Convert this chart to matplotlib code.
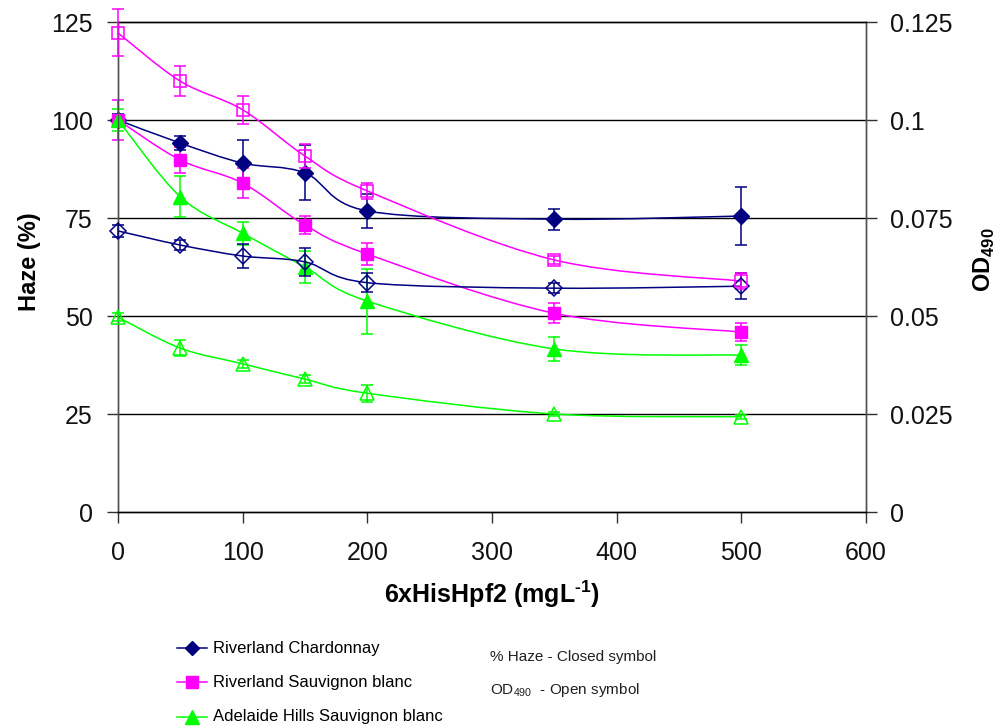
import matplotlib
matplotlib.use("Agg")
import matplotlib.pyplot as plt
from matplotlib.path import Path
from matplotlib.patches import PathPatch
from matplotlib.lines import Line2D
import numpy as np

plt.rcParams['font.family'] = ['Liberation Sans', 'DejaVu Sans']
plt.rcParams['mathtext.fontset'] = 'custom'
plt.rcParams['mathtext.rm'] = 'Liberation Sans'
plt.rcParams['mathtext.bf'] = 'Liberation Sans:bold'

# 6xHisHpf2 dose (mg/L)
dose = [0, 50, 100, 150, 200, 350, 500]

# % haze (closed symbols, left axis)
chard_haze = [100.0, 94.1, 89.0, 86.5, 76.8, 74.7, 75.5]
chard_haze_err = [1.5, 1.8, 6.0, 7.0, 4.3, 2.7, 7.5]
rsb_haze = [100.0, 89.8, 83.9, 73.2, 65.8, 50.7, 45.9]
rsb_haze_err = [5.2, 3.2, 3.8, 2.3, 2.8, 2.6, 2.3]
ahsb_haze = [100.0, 80.4, 71.1, 62.5, 53.8, 41.6, 40.0]
ahsb_haze_err = [2.8, 5.2, 3.0, 4.2, 8.3, 3.0, 2.6]

# OD490 (open symbols, right axis)
chard_od = [0.0717, 0.0681, 0.0653, 0.0638, 0.0585, 0.0571, 0.0576]
chard_od_err = [0.0015, 0.0012, 0.0030, 0.0036, 0.0025, 0.0012, 0.0033]
rsb_od = [0.1222, 0.1099, 0.1026, 0.0908, 0.0819, 0.0643, 0.0589]
rsb_od_err = [0.0060, 0.0038, 0.0035, 0.0030, 0.0020, 0.0010, 0.0020]
ahsb_od = [0.0497, 0.0418, 0.0378, 0.0339, 0.0303, 0.0250, 0.0243]
ahsb_od_err = [0.0010, 0.0020, 0.0010, 0.0010, 0.0022, 0.0005, 0.0005]

series_names = ["Riverland Chardonnay", "Riverland Sauvignon blanc",
                "Adelaide Hills Sauvignon blanc"]
colors = ["#000080", "#FF00FF", "#00FF00"]
markers = ["D", "s", "^"]
msizes = [8, 9, 10]

left_ticks = [0, 25, 50, 75, 100, 125]
right_ticks = [0, 0.025, 0.05, 0.075, 0.1, 0.125]
right_tick_labels = ["0", "0.025", "0.05", "0.075", "0.1", "0.125"]
x_ticks = [0, 100, 200, 300, 400, 500, 600]

W, H = 1004, 726
fig = plt.figure(figsize=(W / 100, H / 100), dpi=100)
ax = fig.add_axes([118 / W, 1 - 512 / H, (866 - 118) / W, (512 - 22) / H])
ax2 = ax.twinx()


def smooth_line(axis, xs, ys, color, lw):
    """Draw a smoothed (Catmull-Rom Bezier) line through the points."""
    pts = np.column_stack([xs, ys]).astype(float)
    n = len(pts)
    verts = [pts[0]]
    codes = [Path.MOVETO]
    for i in range(n - 1):
        p0 = pts[max(i - 1, 0)]
        p1 = pts[i]
        p2 = pts[i + 1]
        p3 = pts[min(i + 2, n - 1)]
        c1 = p1 + (p2 - p0) / 6.0
        c2 = p2 - (p3 - p1) / 6.0
        verts += [c1, c2, p2]
        codes += [Path.CURVE4] * 3
    patch = PathPatch(Path(verts, codes), facecolor="none", edgecolor=color,
                      lw=lw, zorder=2)
    axis.add_patch(patch)


haze_sets = [(chard_haze, chard_haze_err), (rsb_haze, rsb_haze_err),
             (ahsb_haze, ahsb_haze_err)]
od_sets = [(chard_od, chard_od_err), (rsb_od, rsb_od_err),
           (ahsb_od, ahsb_od_err)]

for (vals, err), c, m, ms in zip(haze_sets, colors, markers, msizes):
    smooth_line(ax, dose, vals, c, 1.1)
    eb = ax.errorbar(dose, vals, yerr=err, fmt="none", ecolor=c,
                     elinewidth=1.1, capsize=4, capthick=1.1, zorder=3)
    for art in eb.lines[1] + eb.lines[2]:
        art.set_clip_on(False)
    ax.plot(dose, vals, linestyle="none", marker=m, ms=ms, color=c,
            markeredgecolor=c, zorder=4, clip_on=False)

for (vals, err), c, m, ms in zip(od_sets, colors, markers, msizes):
    smooth_line(ax2, dose, vals, c, 1.1)
    eb = ax2.errorbar(dose, vals, yerr=err, fmt="none", ecolor=c,
                      elinewidth=1.1, capsize=4, capthick=1.1, zorder=3)
    for art in eb.lines[1] + eb.lines[2]:
        art.set_clip_on(False)
    ax2.plot(dose, vals, linestyle="none", marker=m, ms=ms,
             markerfacecolor="none", markeredgecolor=c, markeredgewidth=1.1,
             zorder=4, clip_on=False)

ax.set_xlim(0, 600)
ax.set_ylim(0, 125)
ax2.set_ylim(0, 0.125)
ax.set_xticks(x_ticks)
ax.set_xticklabels([str(t) for t in x_ticks])
ax.set_yticks(left_ticks)
ax.set_yticklabels([str(t) for t in left_ticks])
ax2.set_yticks(right_ticks)
ax2.set_yticklabels(right_tick_labels)

# horizontal gridlines
for t in left_ticks[1:-1]:
    ax.axhline(t, color="black", lw=1.0, zorder=1)

for a in (ax, ax2):
    a.spines["top"].set_color("black")
    a.spines["top"].set_linewidth(1.0)
    a.spines["bottom"].set_color("black")
    a.spines["bottom"].set_linewidth(1.0)
    a.spines["left"].set_color("#505050")
    a.spines["right"].set_color("#505050")
    a.spines["left"].set_linewidth(1.0)
    a.spines["right"].set_linewidth(1.0)
    a.set_facecolor("none")

ax.tick_params(axis="y", direction="out", length=8, width=1, colors="#303030",
               labelsize=18, pad=10, labelcolor="#111111")
ax.tick_params(axis="x", direction="out", length=8, width=1, colors="#303030",
               labelsize=18, pad=13, labelcolor="#111111")
ax2.tick_params(axis="y", direction="out", length=8, width=1, colors="#303030",
                labelsize=18, pad=9, labelcolor="#111111")

ax.set_xlabel("6xHisHpf2 (mgL$^{\\mathbf{\u2010}\\mathbf{1}}$)", fontsize=18,
              fontweight="bold", labelpad=10)
fig.text(30 / W, 1 - 262 / H, "Haze (%)", rotation=90, fontsize=17,
         fontweight="bold", ha="center", va="center")
fig.text(984 / W, 1 - 260 / H, r"OD$_{\mathbf{490}}$", rotation=90,
         fontsize=17, fontweight="bold", ha="center", va="center")

# legend
rows_y = [648, 682, 717]
for name, c, m, ms, yy in zip(series_names, colors, markers, msizes, rows_y):
    yf = 1 - yy / H
    fig.add_artist(Line2D([177 / W, 207 / W], [yf, yf], color=c, lw=1.1,
                          transform=fig.transFigure))
    fig.add_artist(Line2D([192 / W], [yf], marker=m, ms=ms * 0.95, color=c,
                          linestyle="none", transform=fig.transFigure))
    fig.text(213 / W, yf, name, fontsize=12, ha="left", va="center")

fig.text(490 / W, 1 - 657 / H, "% Haze - Closed symbol", fontsize=11,
         ha="left", va="center", color="#202020")
fig.text(490 / W, 1 - 690 / H, r"OD$_{\mathregular{490}}$  - Open symbol",
         fontsize=11, ha="left", va="center", color="#202020")

fig.savefig("out.png", dpi=100)
